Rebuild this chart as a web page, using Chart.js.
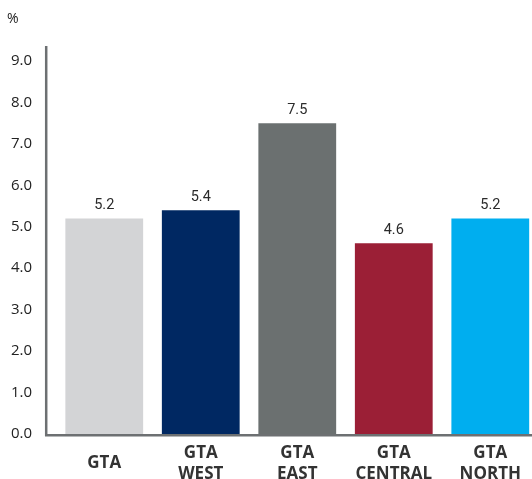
<!DOCTYPE html>
<html>
<head>
<meta charset="utf-8">
<script src="https://cdn.jsdelivr.net/npm/chart.js@4"></script>
<style>
html,body{margin:0;padding:0;background:#fff;overflow:hidden;}
#wrap{width:540px;height:479px;}
</style>
</head>
<body>
<div id="wrap"><canvas id="c" width="540" height="479"></canvas></div>
<script>
const categories = [['GTA'], ['GTA','WEST'], ['GTA','EAST'], ['GTA','CENTRAL'], ['GTA','NORTH']];
const values = [5.2, 5.4, 7.5, 4.6, 5.2];
const barColors = ['#d3d4d6', '#002862', '#6b7070', '#9b1f36', '#00aeef'];
const yTicks = [0,1,2,3,4,5,6,7,8,9];
const unitLabel = '%';

const axisColor = '#6d7072';
const decor = {
  id: 'decor',
  afterDatasetsDraw(chart) {
    const ctx = chart.ctx;
    const area = chart.chartArea;
    ctx.save();
    ctx.strokeStyle = axisColor;
    ctx.lineWidth = 2.5;
    ctx.beginPath();
    ctx.moveTo(46.2, 46);
    ctx.lineTo(46.2, area.bottom + 2.5);
    ctx.moveTo(45, area.bottom + 1.3);
    ctx.lineTo(chart.width, area.bottom + 1.3);
    ctx.stroke();
    ctx.fillStyle = '#2b2b2b';
    ctx.font = '14.5px "Liberation Sans Narrow", "Roboto", sans-serif';
    ctx.textAlign = 'center';
    ctx.textBaseline = 'alphabetic';
    const meta = chart.getDatasetMeta(0);
    meta.data.forEach((bar, i) => {
      ctx.fillText(values[i].toFixed(1), bar.x, bar.y - 9);
    });
    ctx.font = '14px "Open Sans", sans-serif';
    ctx.fillStyle = '#222222';
    ctx.textAlign = 'left';
    ctx.textBaseline = 'middle';
    ctx.fillText(unitLabel, 7, 19);
    ctx.restore();
  }
};

new Chart(document.getElementById('c'), {
  type: 'bar',
  data: {
    labels: categories,
    datasets: [{
      data: values,
      backgroundColor: barColors,
      borderWidth: 0,
      categoryPercentage: 1.0,
      barPercentage: 0.806
    }]
  },
  options: {
    responsive: false,
    animation: false,
    events: [],
    layout: { padding: { top: 61, left: 0, right: 0, bottom: 0 } },
    plugins: { legend: { display: false }, tooltip: { enabled: false } },
    scales: {
      x: {
        grid: { display: false, drawTicks: false },
        border: { display: false },
        afterFit(s) { s.height = 45; },
        ticks: {
          color: '#333333',
          padding: 19,
          crossAlign: 'center',
          maxRotation: 0,
          autoSkip: false,
          font: { family: '"Open Sans", sans-serif', size: 17, weight: 'bold', lineHeight: 1.25 }
        }
      },
      y: {
        min: 0,
        max: 9,
        grid: { display: false, drawTicks: false },
        border: { display: false },
        afterFit(s) { s.width = 56; },
        afterBuildTicks(s) { s.ticks = yTicks.map(v => ({ value: v })); },
        ticks: {
          color: '#222222',
          padding: 24,
          font: { family: '"Open Sans", sans-serif', size: 15 },
          callback: v => Number(v).toFixed(1)
        }
      }
    }
  },
  plugins: [decor]
});
</script>
</body>
</html>
